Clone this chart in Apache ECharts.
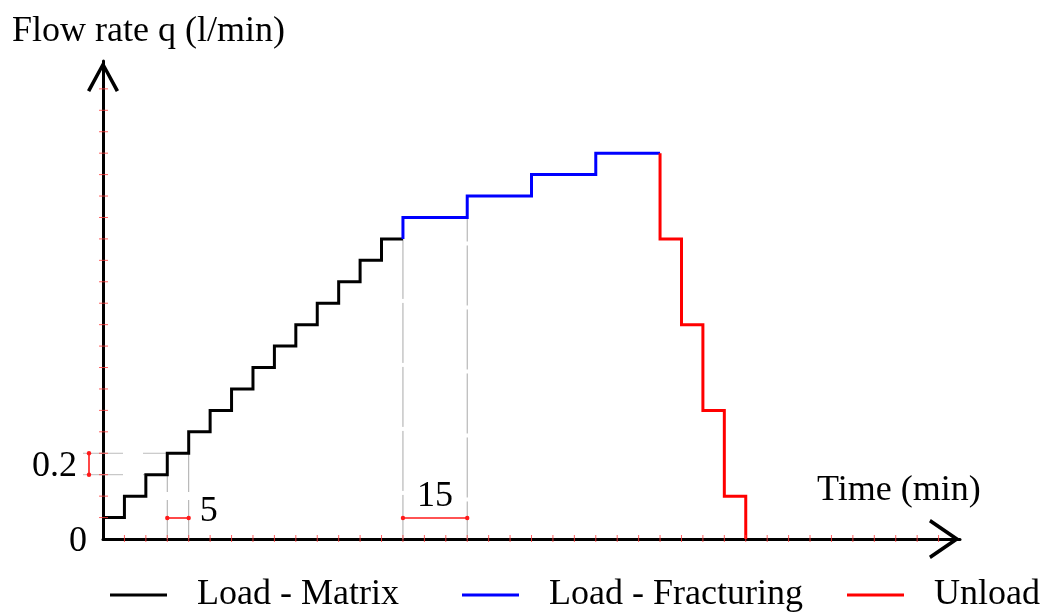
<!DOCTYPE html>
<html>
<head>
<meta charset="utf-8">
<script src="https://cdn.jsdelivr.net/npm/echarts@6/dist/echarts.min.js"></script>
<style>
  html, body { margin: 0; padding: 0; background: #fff; }
  #chart { width: 1047px; height: 612px; }
</style>
</head>
<body>
<div id="chart"></div>
<script>
// Injection schedule: every stage is a staircase of constant-rate holds.
// Start time of each hold (min) and the flow rate held (l/min).
const matrixStart = [0, 5, 10, 15, 20, 25, 30, 35, 40, 45, 50, 55, 60, 65];
const matrixRate  = [0.2, 0.4, 0.6, 0.8, 1.0, 1.2, 1.4, 1.6, 1.8, 2.0, 2.2, 2.4, 2.6, 2.8];
const matrixEnd = 70;

const fracStart = [70, 85, 100, 115];
const fracRate  = [3.0, 3.2, 3.4, 3.6];
const fracEnd = 130;

const unloadStart = [130, 135, 140, 145];
const unloadRate  = [2.8, 2.0, 1.2, 0.4];
const unloadEnd = 150;
const unloadFinal = 0;

// Tick positions on the time axis (min) and on the flow-rate axis (l/min)
const timeTicks = [5, 10, 15, 20, 25, 30, 35, 40, 45, 50, 55, 60, 65, 70, 75, 80, 85, 90, 95, 100,
                   105, 110, 115, 120, 125, 130, 135, 140, 145, 150, 155, 160, 165, 170, 175, 180, 185, 190, 195];
const rateTicks = [0.2, 0.4, 0.6, 0.8, 1.0, 1.2, 1.4, 1.6, 1.8, 2.0, 2.2, 2.4, 2.6, 2.8, 3.0,
                   3.2, 3.4, 3.6, 3.8, 4.0, 4.2];
const originLabel = '0';

const SERIF = '"Liberation Serif", "Times New Roman", serif';
const FONT = '36px ' + SERIF;

// Turn holds into a stepped polyline: flat at each rate until the next hold starts.
function stairs(starts, rates, end, enterLevel, exitLevel) {
  const pts = [];
  if (enterLevel != null) pts.push([starts[0], enterLevel]);
  starts.forEach(function (t, i) {
    const tNext = i + 1 < starts.length ? starts[i + 1] : end;
    pts.push([t, rates[i]], [tNext, rates[i]]);
  });
  if (exitLevel != null) pts.push([end, exitLevel]);
  return pts;
}

const matrixLine = stairs(matrixStart, matrixRate, matrixEnd);
const fracLine = stairs(fracStart, fracRate, fracEnd, matrixRate[matrixRate.length - 1]);
const unloadLine = stairs(unloadStart, unloadRate, unloadEnd, fracRate[fracRate.length - 1], unloadFinal);

// Open V arrow heads for the axis ends (drawn pointing up, rotated by the axis)
const yArrow = 'path://M16,0 L32,29.2 L28.8,31 L16,7 L3.2,31 L0,29.2 Z';
const xArrow = 'path://M20,0 L40,29.2 L36.8,31 L20,6.5 L3.2,31 L0,29.2 Z';

const GUIDE = '#a9a9a9';
const MARK = '#ff1a1a';
const TICK = 'rgba(255,60,60,0.8)';

// Dimension guides: rate increment, short hold length, fracturing hold length.
function renderGuides(params, api) {
  const kids = [];
  const origin = api.coord([0, 0]);
  function seg(a, b, style) {
    kids.push({ type: 'line', shape: { x1: a[0], y1: a[1], x2: b[0], y2: b[1] }, style: style });
  }
  function bracket(a, b) {
    seg(a, b, { stroke: MARK, lineWidth: 1.6 });
    [a, b].forEach(function (p) {
      kids.push({ type: 'circle', shape: { cx: p[0], cy: p[1], r: 2.2 }, style: { fill: MARK } });
    });
  }
  function label(text, x, y, align) {
    kids.push({ type: 'text', x: x, y: y,
      style: { text: text, font: FONT, fill: '#000', align: align, verticalAlign: 'middle' } });
  }

  // Origin label
  label(originLabel, origin[0] - 16, origin[1] + 3, 'right');

  // Rate increment between two consecutive matrix holds
  const lo = matrixRate[2], hi = matrixRate[3];
  const pLo = api.coord([matrixStart[2], lo]);
  const pHi = api.coord([matrixStart[3], hi]);
  const hStyle = { stroke: '#bcbcbc', lineWidth: 1, lineDash: [40, 20] };
  seg([origin[0] - 20, pLo[1]], pLo, hStyle);
  seg([origin[0] - 20, pHi[1]], pHi, hStyle);
  const bx = origin[0] - 14;
  bracket([bx, pLo[1]], [bx, pHi[1]]);
  label(String(+(hi - lo).toFixed(1)), bx - 12, (pLo[1] + pHi[1]) / 2 + 3, 'right');

  const by = origin[1] - 21;

  // Length of one matrix hold
  const t0 = matrixStart[3], t1 = matrixStart[4];
  const a0 = api.coord([t0, matrixRate[2]]);
  const a1 = api.coord([t1, matrixRate[3]]);
  const vStyle = { stroke: GUIDE, lineWidth: 1, lineDash: [39, 8] };
  seg([a0[0], origin[1]], a0, vStyle);
  seg([a1[0], origin[1]], a1, vStyle);
  bracket([a0[0], by], [a1[0], by]);
  label(String(t1 - t0), a1[0] + 11, by - 6, 'left');

  // Length of one fracturing hold
  const f0 = fracStart[0], f1 = fracStart[1];
  const b0 = api.coord([f0, matrixRate[matrixRate.length - 1]]);
  const b1 = api.coord([f1, fracRate[0]]);
  seg(b0, [b0[0], origin[1]], { stroke: GUIDE, lineWidth: 1, lineDash: [60, 4] });
  seg(b1, [b1[0], origin[1]], { stroke: GUIDE, lineWidth: 1, lineDash: [60, 4], lineDashOffset: 36 });
  bracket([b0[0], by], [b1[0], by]);
  label(String(f1 - f0), (b0[0] + b1[0]) / 2, by - 21, 'center');

  return { type: 'group', children: kids };
}

function tickSeries(data, horizontal) {
  return {
    type: 'custom',
    coordinateSystem: 'cartesian2d',
    silent: true,
    z: 4,
    data: data,
    renderItem: function (params, api) {
      const c = api.coord([api.value(0), api.value(1)]);
      const shape = horizontal
        ? { x1: c[0] - 4, y1: c[1], x2: c[0] + 5, y2: c[1] }
        : { x1: c[0], y1: c[1] - 4, x2: c[0], y2: c[1] + 3 };
      return { type: 'line', shape: shape, style: { stroke: TICK, lineWidth: 1 } };
    }
  };
}

function stairSeries(name, data, color) {
  return {
    name: name,
    type: 'line',
    data: data,
    symbol: 'none',
    showSymbol: false,
    z: 3,
    lineStyle: { color: color, width: 3, join: 'miter' },
    itemStyle: { color: color }
  };
}

function legendAt(name, left) {
  return {
    data: [name],
    left: left,
    top: 577,
    padding: 0,
    icon: 'rect',
    itemWidth: 57,
    itemHeight: 3,
    selectedMode: false,
    textStyle: { fontSize: 36, fontFamily: SERIF, color: '#000', padding: [0, 0, 0, 25], lineHeight: 36 }
  };
}

const chart = echarts.init(document.getElementById('chart'), null, { renderer: 'canvas' });

chart.setOption({
  animation: false,
  backgroundColor: '#fff',
  grid: { left: 103, right: 87, top: 61, bottom: 73 },
  xAxis: {
    type: 'value',
    min: 0,
    max: 200,
    axisLine: {
      show: true,
      onZero: false,
      lineStyle: { color: '#000', width: 3 },
      symbol: ['none', xArrow],
      symbolSize: [40, 31],
      symbolOffset: [0, -15.5]
    },
    axisTick: { show: false },
    axisLabel: { show: false },
    splitLine: { show: false }
  },
  yAxis: {
    type: 'value',
    min: 0,
    max: 4.46,
    axisLine: {
      show: true,
      onZero: false,
      lineStyle: { color: '#000', width: 3 },
      symbol: ['none', yArrow],
      symbolSize: [32, 31],
      symbolOffset: [0, -15.5]
    },
    axisTick: { show: false },
    axisLabel: { show: false },
    splitLine: { show: false }
  },
  legend: [
    legendAt('Load - Matrix', 110),
    legendAt('Load - Fracturing', 462),
    legendAt('Unload', 847)
  ],
  graphic: [
    { type: 'text', left: 12, top: 14, style: { text: 'Flow rate q (l/min)', font: FONT, fill: '#000' } },
    { type: 'text', left: 817, top: 473, style: { text: 'Time (min)', font: FONT, fill: '#000' } }
  ],
  series: [
    {
      type: 'custom',
      coordinateSystem: 'cartesian2d',
      silent: true,
      z: 1,
      data: [[0, 0]],
      renderItem: renderGuides
    },
    tickSeries(timeTicks.map(function (t) { return [t, 0]; }), false),
    tickSeries(rateTicks.map(function (q) { return [0, q]; }), true),
    stairSeries('Load - Matrix', matrixLine, '#000000'),
    stairSeries('Load - Fracturing', fracLine, '#0000ff'),
    stairSeries('Unload', unloadLine, '#ff0000')
  ]
});
</script>
</body>
</html>
